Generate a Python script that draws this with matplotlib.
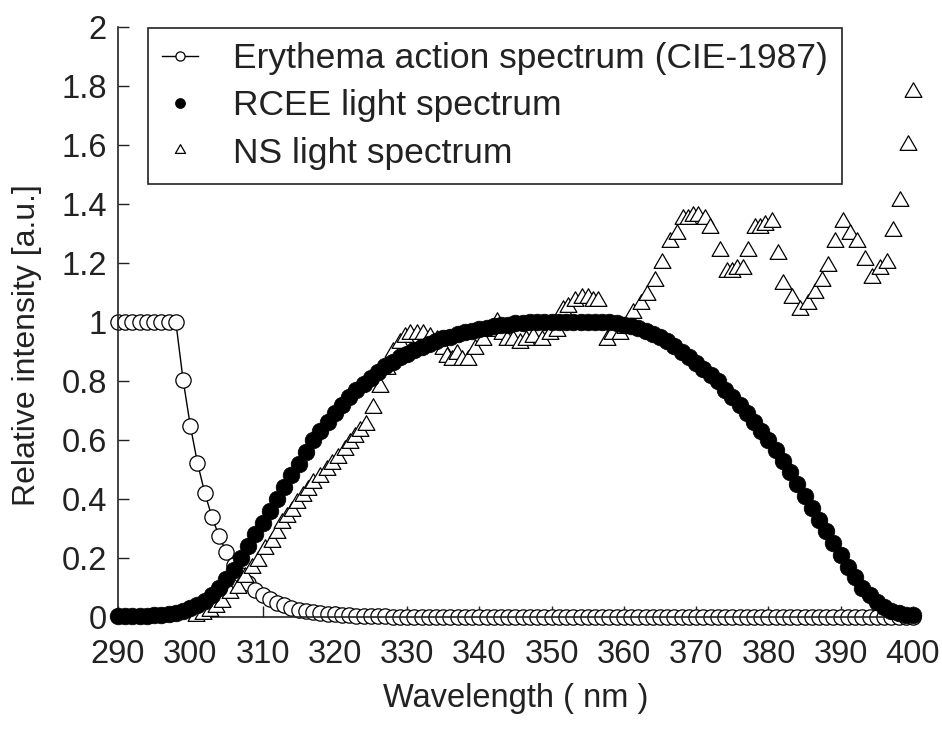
import matplotlib
matplotlib.use("Agg")
import matplotlib.pyplot as plt
from matplotlib import font_manager
from matplotlib.path import Path

# ---------------- data ----------------
wavelength = list(range(290, 401))

erythema = [1.0]*9 + [0.805, 0.649, 0.522, 0.421, 0.339, 0.273, 0.220, 0.177, 0.143,
            0.115, 0.093, 0.075, 0.060, 0.048, 0.039, 0.031, 0.025, 0.020, 0.017,
            0.013, 0.011, 0.009, 0.007, 0.006, 0.005, 0.004, 0.003, 0.002, 0.002] + [0.001]*73

rcee = [0.005, 0.005, 0.005, 0.005, 0.005, 0.006, 0.008, 0.010, 0.015, 0.020,
        0.030, 0.040, 0.055, 0.075, 0.100, 0.130, 0.160, 0.200, 0.240, 0.280,
        0.320, 0.360, 0.400, 0.440, 0.480, 0.520, 0.560, 0.600, 0.630, 0.660,
        0.690, 0.720, 0.745, 0.770, 0.790, 0.810, 0.830, 0.850, 0.865, 0.880,
        0.890, 0.905, 0.915, 0.925, 0.935, 0.945, 0.950, 0.960, 0.965, 0.970,
        0.975, 0.980, 0.985, 0.990, 0.990, 0.995, 0.995, 1.000, 1.000, 1.000,
        1.000, 1.000, 1.000, 1.000, 1.000, 1.000, 1.000, 1.000, 1.000, 0.995,
        0.990, 0.985, 0.980, 0.970, 0.960, 0.950, 0.935, 0.920, 0.900, 0.880,
        0.860, 0.840, 0.820, 0.800, 0.770, 0.745, 0.720, 0.690, 0.660, 0.630,
        0.600, 0.565, 0.530, 0.490, 0.450, 0.410, 0.370, 0.330, 0.290, 0.250,
        0.210, 0.170, 0.135, 0.100, 0.075, 0.050, 0.035, 0.020, 0.012, 0.008,
        0.006]

ns_wl = [300.8, 301.8, 302.7, 303.6, 304.4, 305.5, 306.6, 307.6, 308.5, 309.4,
         310.3, 311.3, 312.0, 312.7, 313.4, 314.1, 314.8, 315.6, 316.3, 317.0,
         318.0, 318.9, 319.6, 320.4, 321.4, 322.1, 322.8, 323.5, 324.3, 325.3,
         326.3, 327.2, 328.0, 329.0, 329.7, 330.4, 331.4, 332.2, 333.2, 334.1,
         335.0, 335.5, 336.2, 336.9, 337.6, 338.4, 339.4, 340.5, 341.4, 342.4,
         343.1, 343.8, 344.7, 345.6, 346.5, 347.4, 348.7, 349.8, 350.7, 351.6,
         352.3, 353.2, 354.2, 355.0, 355.7, 356.4, 357.7, 358.4, 359.5, 360.2,
         361.3, 362.3, 363.2, 364.3, 365.3, 366.4, 367.3, 368.2, 368.9, 369.6,
         370.3, 371.2, 371.9, 373.3, 374.3, 375.0, 375.6, 376.5, 377.2, 378.1,
         378.8, 379.5, 380.5, 381.3, 382.0, 383.3, 384.4, 385.5, 386.4, 387.4,
         388.2, 389.2, 390.3, 391.3, 392.3, 393.4, 394.3, 395.4, 396.4, 397.2,
         398.2, 399.3, 400.0]
ns_val = [0.005, 0.010, 0.020, 0.035, 0.050, 0.080, 0.100, 0.135, 0.165, 0.190,
          0.230, 0.255, 0.285, 0.320, 0.340, 0.360, 0.385, 0.410, 0.430, 0.455,
          0.475, 0.500, 0.520, 0.540, 0.565, 0.590, 0.610, 0.630, 0.650, 0.710,
          0.780, 0.840, 0.900, 0.930, 0.950, 0.960, 0.960, 0.960, 0.950, 0.940,
          0.910, 0.880, 0.870, 0.890, 0.870, 0.870, 0.910, 0.940, 0.970, 1.000,
          0.960, 0.940, 0.940, 0.930, 0.940, 0.950, 0.940, 0.960, 0.970, 1.040,
          1.050, 1.070, 1.080, 1.080, 1.070, 1.070, 0.940, 0.960, 0.960, 0.980,
          1.030, 1.060, 1.090, 1.140, 1.200, 1.270, 1.300, 1.350, 1.350, 1.360,
          1.360, 1.350, 1.320, 1.240, 1.170, 1.170, 1.180, 1.180, 1.240, 1.320,
          1.320, 1.330, 1.340, 1.230, 1.130, 1.080, 1.040, 1.060, 1.100, 1.140,
          1.190, 1.270, 1.340, 1.300, 1.270, 1.210, 1.150, 1.180, 1.200, 1.310,
          1.410, 1.600, 1.780]

x_ticks = list(range(290, 401, 10))
y_ticks = [0, 0.2, 0.4, 0.6, 0.8, 1, 1.2, 1.4, 1.6, 1.8, 2]
y_tick_labels = ["0", "0.2", "0.4", "0.6", "0.8", "1", "1.2", "1.4", "1.6", "1.8", "2"]

labels = ["Erythema action spectrum (CIE-1987)", "RCEE light spectrum", "NS light spectrum"]

# ---------------- fonts ----------------
names = {f.name for f in font_manager.fontManager.ttflist}
font = "Liberation Sans" if "Liberation Sans" in names else "DejaVu Sans"

# ---------------- figure ----------------
fig = plt.figure(figsize=(9.42, 7.30), dpi=100)
ax = fig.add_axes([118/942, 1-617/730, (913-118)/942, (617-27)/730])

tri = Path([(-1, -0.577), (1, -0.577), (0, 1.155), (-1, -0.577)],
           [Path.MOVETO, Path.LINETO, Path.LINETO, Path.CLOSEPOLY])

ax.plot(wavelength, erythema, color="black", lw=1.0, marker="o", ms=11,
        mfc="white", mec="black", mew=0.9, clip_on=False, zorder=2, label=labels[0])
ax.plot(ns_wl, ns_val, ls="none", marker=tri, ms=14, mfc="white", mec="black",
        mew=0.9, clip_on=False, zorder=3, label=labels[2])
ax.plot(wavelength, rcee, ls="none", marker="o", ms=12, mfc="black", mec="black",
        mew=0.5, clip_on=False, zorder=4, label=labels[1])

ax.set_xlim(290, 400)
ax.set_ylim(0, 2)
ax.set_xticks(x_ticks)
ax.set_xticklabels([str(v) for v in x_ticks], fontsize=23.5, family=font)
ax.set_yticks(y_ticks)
ax.set_yticklabels(y_tick_labels, fontsize=23.5, family=font)
ax.tick_params(axis="both", direction="in", length=8, width=1.0, colors="#222222")
ax.tick_params(axis="x", pad=16)
ax.tick_params(axis="y", pad=8)
for s in ["top", "right"]:
    ax.spines[s].set_visible(False)
for s in ["left", "bottom"]:
    ax.spines[s].set_linewidth(1.2)
    ax.spines[s].set_color("#222222")

ax.set_xlabel("Wavelength ( nm )", fontsize=23.5, family=font, color="#222222")
ax.xaxis.set_label_coords(0.5, -0.112)
ax.set_ylabel("Relative intensity [a.u.]", fontsize=23, family=font, color="#222222")
ax.yaxis.set_label_coords(-0.095, 0.461)
for t in ax.get_xticklabels() + ax.get_yticklabels():
    t.set_color("#222222")

h, l = ax.get_legend_handles_labels()
order = [0, 2, 1]
leg = ax.legend([h[i] for i in order], [l[i] for i in order],
                loc="upper left", bbox_to_anchor=((148-118)/795, (617-28)/590),
                prop={"family": font, "size": 25.5}, frameon=True, fancybox=False,
                edgecolor="#222222", framealpha=1, markerscale=0.6,
                handlelength=1.0, handletextpad=1.0, labelspacing=0.4,
                borderpad=0.4, borderaxespad=0)
leg.get_frame().set_linewidth(1.2)
for t in leg.get_texts():
    t.set_color("#222222")

fig.savefig("out.png", dpi=100, facecolor="white")
